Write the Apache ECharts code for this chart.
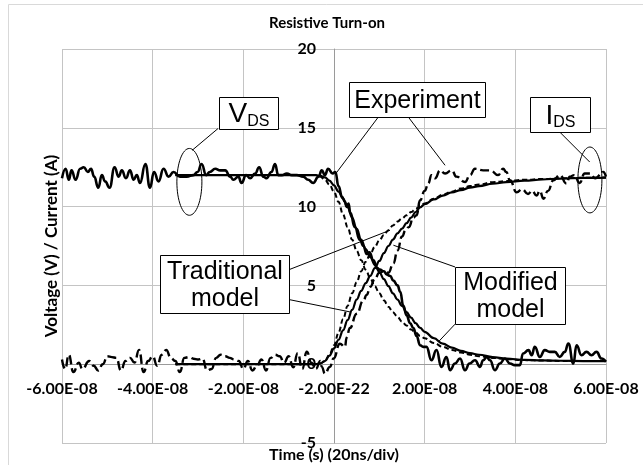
<!DOCTYPE html>
<html><head><meta charset="utf-8">
<script src="https://cdn.jsdelivr.net/npm/echarts@6/dist/echarts.min.js"></script>
<style>html,body{margin:0;padding:0;background:#fff}#c{width:643px;height:465px}</style>
</head><body><div id="c"></div>
<script>
// ---- data (time in ns, values in V / A) ----
const xTickValues = [-60, -40, -20, 0, 20, 40, 60];
const xTickLabels = ['-6.00E-08', '-4.00E-08', '-2.00E-08', '-2.00E-22', '2.00E-08', '4.00E-08', '6.00E-08'];

const vdsExperiment = [[-60,11.8],[-59.2,12.4],[-58.5,11.7],[-57.9,12.3],[-57,11.7],[-56,12.4],[-55.2,12.5],[-54.3,12.2],[-53.6,12.4],[-52.9,11.9],[-52,11.2],[-51.2,12.0],[-50.5,11.6],[-49.5,11.2],[-48.4,12.5],[-47.5,11.9],[-46.8,12.3],[-45.9,11.8],[-45,12.3],[-44.2,11.7],[-43.5,12.0],[-42.8,11.5],[-41.6,12.7],[-40.6,11.2],[-39.7,12.2],[-38.7,11.6],[-37.6,12.4],[-36.5,11.9],[-35.4,12.2],[-34,11.9],[-32.5,11.9],[-31,12.0],[-30.1,12.2],[-29.2,12.7],[-28.2,12.0],[-27.4,12.2],[-26.2,12.4],[-25.1,12.3],[-24,12.3],[-22.9,11.9],[-22.2,11.7],[-21.1,11.9],[-20.4,11.5],[-19.4,12.0],[-18.5,11.8],[-17.4,12.1],[-16.5,12.5],[-15.6,11.9],[-14.9,11.8],[-13.8,12.2],[-13,12.7],[-12.3,12.0],[-11.5,12.0],[-10.4,12.1],[-9.3,12.0],[-8.2,12.0],[-6.8,11.9],[-5.7,11.7],[-4.6,11.5],[-3.4,11.9],[-2.7,12.3],[-2,12.0],[-1.3,12.4],[-0.3,12.1],[0.3,12.2],[1,11.3],[1.8,10.6],[2.4,10.3],[2.8,10.0],[3.2,10.2],[3.6,9.6],[4.6,8.7],[5.7,7.9],[6.5,7.5],[7.2,7.0],[7.8,7.1],[8.7,6.6],[9.5,6.1],[10.1,6.0],[11,5.9],[11.6,5.7],[12.4,5.6],[13.1,5.3],[14,5.0],[14.6,4.6],[15.3,3.7],[16,3.1],[16.8,2.6],[17.5,2.3],[18.2,1.8],[19,1.2],[19.7,1.1],[20.4,1.1],[21.5,0.25],[22.6,0.9],[23.7,-0.17],[24.8,0.46],[25.6,-0.38],[26.7,0.04],[27.8,0.36],[28.9,-0.38],[29.9,0.04],[31.1,0.25],[32.2,-0.17],[32.9,0.25],[33.7,0.46],[34.4,0.25],[35.5,-0.38],[36.6,0.04],[37.7,0.36],[38.8,0.04],[39.9,-0.06],[41,-0.06],[41.7,0.68],[42.9,0.89],[43.6,0.57],[44.3,1.1],[45.4,0.46],[46.5,0.89],[47.6,0.78],[48.7,0.78],[49.8,0.46],[50.9,0.78],[51.7,1.31],[52.8,0.04],[53.5,1.2],[54.6,0.57],[55.7,0.78],[56.8,0.57],[57.9,0.78],[59,0.36],[60,0.15]];

const idsExperiment = [[-60,0.3],[-59.3,-0.3],[-58.5,0.6],[-57.5,-0.5],[-56.3,0.1],[-55.5,-0.3],[-54,0.2],[-53,-0.1],[-52,-0.4],[-51,0.0],[-50,0.5],[-49,0.45],[-48,0.4],[-47,-0.4],[-46,0.2],[-45,0.4],[-44,0.1],[-43,0.9],[-42,-0.5],[-41,0.2],[-40,0.5],[-39,-0.1],[-38,0.6],[-37,0.9],[-36,0.4],[-35,0.2],[-34,-0.5],[-33,0.4],[-32,0.45],[-31,0.35],[-30,0.3],[-29,0.35],[-28,-0.4],[-27,-0.3],[-26,0.4],[-25,0.6],[-24,0.5],[-23,0.4],[-22,0.3],[-21,0.2],[-20,-0.3],[-19,0.2],[-18,-0.4],[-17,-0.1],[-16,0.3],[-15,-0.4],[-14,0.4],[-13,0.6],[-12,0.5],[-11,0.1],[-10,0.5],[-9,-0.2],[-8,0.7],[-7,-0.3],[-6,0.8],[-5,0.1],[-4,-0.3],[-3,0.2],[-2.7,-0.17],[-2,-0.6],[-0.9,-0.17],[-0.1,0.36],[1.3,1.3],[2.4,1.1],[2.8,1.7],[3.5,2.3],[5,3.2],[6.5,4.05],[7.2,4.4],[8,4.9],[9,5.4],[10,5.8],[11,5.9],[12,5.8],[13.1,6.4],[14,7.2],[15,8.1],[15.8,8.5],[16.5,8.7],[17.5,9.3],[18.2,9.45],[19,10.4],[20,11.0],[20.8,11.46],[21.5,12.0],[22.3,11.8],[23.4,12.3],[24.5,12.1],[26,12.3],[27,11.9],[28.9,11.56],[30,12.0],[31.1,12.4],[32.9,12.3],[34.5,12.3],[36.2,12.0],[37.3,12.4],[38,12.2],[38.8,11.67],[40.3,10.9],[41.5,11.1],[42.8,10.8],[43.7,11.0],[44.7,10.7],[45.4,11.0],[46.2,10.5],[47.2,11.0],[48.4,11.67],[49.8,12.0],[51.3,11.46],[52,11.9],[53,12.0],[54.2,11.5],[55.3,12.1],[56.5,12.1],[57.6,11.8],[59.4,12.2],[60,11.9]];

const modelT        = [-35, -4, -3, -2, -1, 0, 1, 2, 3, 4, 5, 6, 7, 8, 9, 10, 11, 12, 13, 14, 15, 16, 17, 18, 19, 20, 22, 24, 26, 28, 30, 32, 35, 38, 42, 46, 50, 55, 60];
const vdsModified   = [12.0, 12.0, 11.95, 11.85, 11.65, 11.35, 10.95, 10.5, 9.95, 9.3, 8.6, 7.9, 7.3, 6.8, 6.3, 5.85, 5.4, 4.95, 4.5, 4.1, 3.7, 3.3, 2.95, 2.6, 2.3, 2.05, 1.65, 1.3, 1.05, 0.85, 0.7, 0.6, 0.45, 0.35, 0.28, 0.24, 0.22, 0.2, 0.2];
const vdsTraditional= [12.0, 12.0, 11.9, 11.7, 11.4, 10.95, 10.3, 9.5, 8.7, 7.9, 7.2, 6.6, 6.0, 5.45, 4.95, 4.5, 4.05, 3.65, 3.3, 3.0, 2.7, 2.45, 2.2, 2.0, 1.8, 1.65, 1.35, 1.1, 0.9, 0.75, 0.6, 0.5, 0.4, 0.32, 0.26, 0.23, 0.21, 0.2, 0.2];
const idsModified   = [0, 0, 0.05, 0.2, 0.55, 1.0, 1.55, 2.15, 2.8, 3.45, 4.1, 4.65, 5.15, 5.6, 6.1, 6.55, 7.05, 7.5, 7.9, 8.3, 8.6, 8.95, 9.3, 9.65, 9.95, 10.15, 10.45, 10.7, 10.9, 11.05, 11.2, 11.3, 11.45, 11.55, 11.65, 11.72, 11.78, 11.82, 11.84];
const idsTraditional= [0, 0, 0.05, 0.2, 0.6, 1.2, 2.0, 2.85, 3.7, 4.5, 5.2, 5.9, 6.5, 7.0, 7.45, 7.85, 8.2, 8.5, 8.8, 9.05, 9.25, 9.45, 9.65, 9.85, 10.05, 10.2, 10.5, 10.75, 10.95, 11.15, 11.3, 11.4, 11.55, 11.62, 11.7, 11.75, 11.8, 11.83, 11.85];

// ---- chart ----
const chart = echarts.init(document.getElementById('c'), null, {renderer: 'canvas'});
const zip = (ts, vs) => ts.map((t, i) => [t, vs[i]]);
const LBL = {fontFamily: 'Lato', fontWeight: 'bold', fontSize: 16, color: '#000'};
const GRID = {left: 62, right: 37, top: 49, bottom: 22};

function lineSeries(name, data, width, type, smooth, z) {
  return {
    name, type: 'line', data, showSymbol: false, symbol: 'none', smooth, smoothMonotone: 'x',
    lineStyle: {color: '#000', width, type}, z, animation: false, clip: true
  };
}

chart.setOption({
  animation: false,
  grid: Object.assign({containLabel: false, outerBoundsMode: 'none'}, GRID),
  xAxis: {
    type: 'value', min: -60, max: 60, interval: 20, position: 'bottom',
    axisLine: {show: true, onZero: false, lineStyle: {color: '#9a9a9a', width: 1}},
    axisTick: {show: false},
    splitLine: {show: true, lineStyle: {color: '#c4c4c4', width: 1}},
    axisLabel: Object.assign({margin: 17, showMinLabel: true, showMaxLabel: true, hideOverlap: false,
      formatter: v => { const i = xTickValues.indexOf(Math.round(v)); return i >= 0 ? xTickLabels[i] : ''; }}, LBL)
  },
  yAxis: {
    type: 'value', min: -5, max: 20, interval: 5, position: 'left',
    axisLine: {show: true, onZero: false, lineStyle: {color: '#9a9a9a', width: 1}},
    axisTick: {show: false},
    splitLine: {show: true, lineStyle: {color: '#c4c4c4', width: 1}},
    axisLabel: Object.assign({margin: 18, showMinLabel: true, showMaxLabel: true, hideOverlap: false}, LBL)
  },
  series: [
    lineSeries('VDS experiment', vdsExperiment, 2.6, 'solid', 0.5, 2),
    lineSeries('IDS experiment', idsExperiment, 2.4, [9, 4], 0.5, 2),
    lineSeries('VDS traditional model', zip(modelT, vdsTraditional), 2, [5, 3], 0.4, 3),
    lineSeries('IDS traditional model', zip(modelT, idsTraditional), 2, [5, 3], 0.4, 3),
    lineSeries('VDS modified model', zip(modelT, vdsModified), 2.2, 'solid', 0.4, 4),
    lineSeries('IDS modified model', zip(modelT, idsModified), 2.2, 'solid', 0.4, 4)
  ]
});

const P = (t, v) => chart.convertToPixel({gridIndex: 0}, [t, v]);

// move both axes (line + labels) to cross at the origin
const origin = P(0, 0);
const plotBottom = 465 - GRID.bottom;
chart.setOption({
  xAxis: {offset: -(plotBottom - origin[1])},
  yAxis: {offset: -(origin[0] - GRID.left)}
});

// ---- annotations (anchored in data coordinates) ----
const crisp = x => Math.round(x) + 0.5;
const boxes = [
  {t0: -25.3, t1: -12.2, v0: 14.95, v1: 16.95, text: '{a|V}{b|DS}'},
  {t0: 3.4,  t1: 33.5,  v0: 15.7, v1: 17.9, text: 'Experiment'},
  {t0: 43.3, t1: 56.5,  v0: 14.73, v1: 16.95, text: '{a|I}{b|DS}'},
  {t0: -38.4, t1: -9.9, v0: 3.25, v1: 6.91, text: 'Traditional\nmodel'},
  {t0: 26.7, t1: 50.9,  v0: 2.54, v1: 6.17, text: 'Modified\nmodel'}
];
const leaders = [
  [[-25.6, 14.95], [-31.3, 13.57]],
  [[49.8, 14.73], [56.4, 12.83]],
  [[9.77, 15.68], [0.44, 12.11]],
  [[16.4, 15.68], [24.5, 12.62]],
  [[-9.9, 6.0], [12.35, 8.5]],
  [[-9.9, 4.1], [3.5, 3.32]],
  [[26.7, 6.17], [13.1, 7.55]],
  [[26.7, 2.54], [23.0, 1.41]]
];
const ellipses = [
  {t: -31.9, v: 11.57, dt: 2.76, dv: 2.12},
  {t: 56.45, v: 11.69, dt: 2.65, dv: 2.09}
];

const g = [];
// chart-area border: only the left and top edges fall inside the picture
g.push({type: 'rect', silent: true, z: 0, shape: {x: 8.5, y: 4.5, width: 700, height: 480},
  style: {fill: 'none', stroke: '#d9d9d9', lineWidth: 1}});
leaders.forEach(([a, b]) => {
  const p = P(a[0], a[1]), q = P(b[0], b[1]);
  g.push({type: 'line', silent: true, z: 50, shape: {x1: p[0], y1: p[1], x2: q[0], y2: q[1]},
    style: {stroke: '#000', lineWidth: 1}});
});
ellipses.forEach(e => {
  const c = P(e.t, e.v), r = P(e.t + e.dt, e.v + e.dv);
  g.push({type: 'ellipse', silent: true, z: 50, shape: {cx: c[0], cy: c[1], rx: r[0] - c[0], ry: c[1] - r[1]},
    style: {fill: 'none', stroke: '#000', lineWidth: 1}});
});
boxes.forEach(b => {
  const p0 = P(b.t0, b.v1), p1 = P(b.t1, b.v0);
  const x = crisp(p0[0]), y = crisp(p0[1]), w = Math.round(p1[0] - p0[0]), h = Math.round(p1[1] - p0[1]);
  g.push({type: 'rect', silent: true, z: 60, shape: {x, y, width: w, height: h},
    style: {fill: '#fff', stroke: '#000', lineWidth: 1}});
  g.push({type: 'text', silent: true, z: 61, x: x + w / 2, y: y + h / 2 + 1,
    style: {text: b.text, fill: '#000', fontFamily: 'Liberation Sans', fontSize: 25, lineHeight: 27,
      align: 'center', verticalAlign: 'middle', textAlign: 'center', textVerticalAlign: 'middle',
      rich: {a: {fontFamily: 'Liberation Sans', fontSize: 28, lineHeight: 30, fill: '#000'},
             b: {fontFamily: 'Liberation Sans', fontSize: 16, lineHeight: 21, verticalAlign: 'bottom', fill: '#000'}}}});
});
// titles
g.push({type: 'text', silent: true, x: 327, y: 23,
  style: {text: 'Resistive Turn-on', fill: '#000', fontFamily: 'Lato', fontWeight: 'bold', fontSize: 15,
    align: 'center', verticalAlign: 'middle', textAlign: 'center', textVerticalAlign: 'middle'}});
g.push({type: 'text', silent: true, x: 334, y: 455,
  style: {text: 'Time (s) (20ns/div)', fill: '#000', fontFamily: 'Lato', fontWeight: 'bold', fontSize: 16,
    align: 'center', verticalAlign: 'middle', textAlign: 'center', textVerticalAlign: 'middle'}});
g.push({type: 'text', silent: true, x: 52, y: 246, rotation: Math.PI / 2,
  style: {text: 'Voltage (V) / Current (A)', fill: '#000', fontFamily: 'Lato', fontWeight: 'bold', fontSize: 17,
    align: 'center', verticalAlign: 'middle', textAlign: 'center', textVerticalAlign: 'middle'}});
chart.setOption({graphic: {elements: g}});
</script>
</body></html>
